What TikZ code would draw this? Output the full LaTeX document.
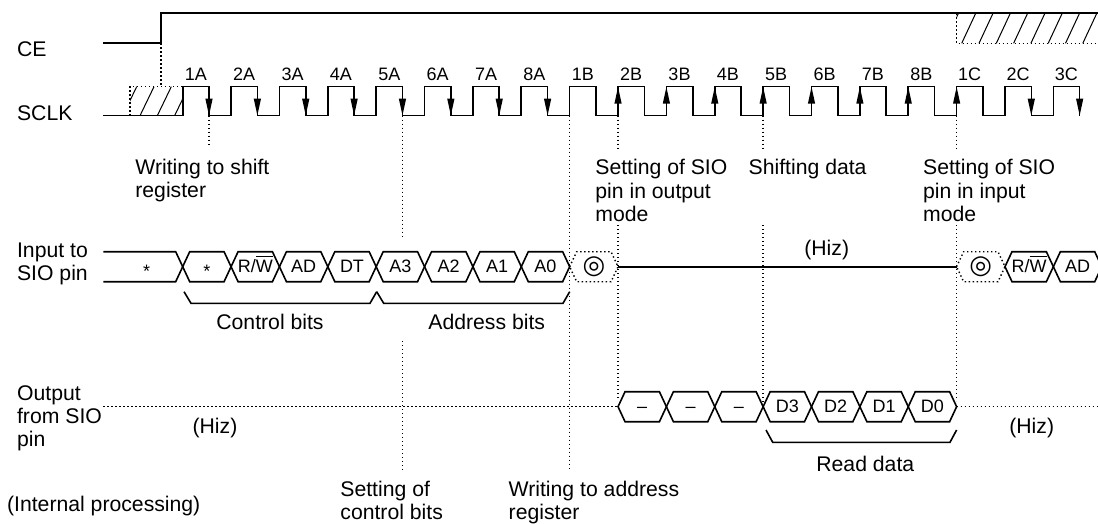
\documentclass[tikz,border=0pt]{standalone}
\usepackage{fontspec}
\setmainfont{Liberation Sans}
\newfontfamily\symfont{DejaVu Sans}
\usepackage{tikz}
\usetikzlibrary{arrows.meta}

\begin{document}
\begin{tikzpicture}[x=0.5pt, y=-0.5pt,
    wave/.style={line width=0.8pt},
    dots/.style={line width=0.7pt, dash pattern=on 0.7pt off 1.3pt},
    hatch/.style={line width=0.5pt},
    edge/.style={line width=0.8pt, -{Triangle[length=8.5pt,width=3.4pt]}},
    lbl/.style={font=\fontsize{10.6pt}{11.7pt}\selectfont, inner sep=0pt, align=left},
    bit/.style={font=\fontsize{9pt}{10pt}\selectfont, inner sep=0pt, anchor=base}]
    \useasboundingbox (0,0) rectangle (1098,524);
    \clip (0,0) rectangle (1098,524);
    % CE
    \draw[wave] (103.3,43.3) -- (161,43.3) -- (161,13.3) -- (1098,13.3);
    \draw[dots] (161,43.3) -- (161,86.7);
    \draw[dots] (956.6,13.3) -- (956.6,43.3) -- (1098,43.3);
    \begin{scope}
      \clip (956.6,13.3) rectangle (1098,43.3);
      \foreach \h in {0,...,8} \draw[hatch] ({944.4+17.3*\h},43.3) -- ++(14,-30);
    \end{scope}
    % SCLK
    \draw[dots] (130,115.7) -- (130,86.7) -- (182.7,86.7);
    \begin{scope}
      \clip (130,86.7) rectangle (182.7,115.7);
      \foreach \h in {0,...,3} \draw[hatch] ({122.7+17.3*\h},115.7) -- ++(14,-29);
    \end{scope}
    \draw[wave] (103.3,115.7) foreach \k in {0,...,18} {
      -- ({182.7+48.37*\k},115.7) -- ++(0,-29) -- ++(26.3,0) -- ++(0,29) };
    \foreach \k in {0,1,2,3,4,5,6,7,17,18}
      \draw[edge] ({209+48.37*\k},86.7) -- ++(0,29);
    \foreach \k in {9,...,16}
      \draw[edge] ({182.7+48.37*\k},115.7) -- ++(0,-29);
    \foreach \t [count=\k from 0] in {1A,2A,3A,4A,5A,6A,7A,8A,1B,2B,3B,4B,5B,6B,7B,8B,1C,2C,3C}
      \node[bit] (clk\t) at ({195.8+48.37*\k},81) {\t};
    % Markers
    \draw[dots] (209,115.7) -- (209,145);
    \draw[dots] (402.5,115.7) -- (402.5,238);
    \draw[dots] (402.5,341) -- (402.5,470);
    \draw[dots] (569.7,115.7) -- (569.7,470);
    \foreach \x/\e in {618/400, 763.1/403, 956.6/401} {
      \draw[dots] (\x,115.7) -- (\x,150);
      \draw[dots] (\x,225) -- (\x,\e);
    }
    % Input to SIO pin
    \draw[wave] (103.3,251.7) -- (175.7,251.7) -- (182.7,266.7) -- (175.7,281.7) -- (103.3,281.7);
    \node[bit] (in) at (146.7,272) {\raisebox{-2.7pt}{*}};
    \foreach \k/\t in {0/{\raisebox{-2.7pt}{*}}, 1/{R/$\overline{\mbox{W}}$}, 2/AD, 3/DT,
        4/A3, 5/A2, 6/A1, 7/A0, 17/{R/$\overline{\mbox{W}}$}, 18/AD} {
      \pgfmathsetmacro\a{182.7+48.37*\k}
      \pgfmathsetmacro\b{\a+48.37}
      \draw[wave] (\a,266.7) -- ({\a+7},251.7) -- ({\b-7},251.7) -- (\b,266.7)
        -- ({\b-7},281.7) -- ({\a+7},281.7) -- cycle;
      \node[bit] (in\k) at ({(\a+\b)/2},272) {\t};
    }
    \foreach \k in {8,16} {
      \pgfmathsetmacro\a{182.7+48.37*\k}
      \pgfmathsetmacro\b{\a+48.37}
      \draw[dots] (\a,266.7) -- ({\a+7},251.7) -- ({\b-7},251.7) -- (\b,266.7)
        -- ({\b-7},281.7) -- ({\a+7},281.7) -- cycle;
      \node[lbl, font=\fontsize{13pt}{14pt}\symfont] (mark\k) at ({(\a+\b)/2},266.7) {◎};
    }
    \draw[wave] (618,266.7) -- (956.6,266.7);
    \node[lbl, anchor=base] (hizin) at (826.7,256) {(Hiz)};
    \draw[wave] (184,291.7) -- (191,303.3) -- (370,303.3) -- (376.7,291.7);
    \draw[wave] (376.7,291.7) -- (383.7,303.3) -- (563,303.3) -- (569.7,291.7);
    \node[lbl, anchor=base] (ctrl) at (270,329) {Control bits};
    \node[lbl, anchor=base] (addr) at (486.7,329) {Address bits};
    % Output from SIO pin
    \draw[dots] (103.3,406.7) -- (618,406.7);
    \draw[dots] (956.6,406.7) -- (1098,406.7);
    \foreach \k/\t in {9/--, 10/--, 11/--, 12/D3, 13/D2, 14/D1, 15/D0} {
      \pgfmathsetmacro\a{182.7+48.37*\k}
      \pgfmathsetmacro\b{\a+48.37}
      \draw[wave] (\a,406.7) -- ({\a+7},391.7) -- ({\b-7},391.7) -- (\b,406.7)
        -- ({\b-7},421.7) -- ({\a+7},421.7) -- cycle;
      \node[bit] (out\k) at ({(\a+\b)/2},412) {\t};
    }
    \draw[wave] (766,430) -- (772.7,442.3) -- (950,442.3) -- (956.6,430);
    \node[lbl, anchor=base] (hizl) at (215,433.3) {(Hiz)};
    \node[lbl, anchor=base] (hizr) at (1031.7,433.3) {(Hiz)};
    \node[lbl, anchor=base] (read) at (865.3,471.7) {Read data};
    % Labels (multi-line: base is the last line)
    \node[lbl, anchor=base west] (ce) at (16.7,56.7) {CE};
    \node[lbl, anchor=base west] (sclk) at (16.7,120) {SCLK};
    \node[lbl, anchor=base west] (sio) at (16.7,280.7) {Input to\\SIO pin};
    \node[lbl, anchor=base west] (sout) at (16.7,446.8) {Output\\from SIO\\pin};
    \node[lbl, anchor=base west] (shift) at (135,197.7) {Writing to shift\\register};
    \node[lbl, anchor=base west] (omode) at (595,221.8) {Setting of SIO\\pin in output\\mode};
    \node[lbl, anchor=base west] (sdata) at (748.3,175) {Shifting data};
    \node[lbl, anchor=base west] (imode) at (922.7,221.8) {Setting of SIO\\pin in input\\mode};
    \node[lbl, anchor=base west] (intern) at (6.7,511) {(Internal processing)};
    \node[lbl, anchor=base west, font=\fontsize{10.6pt}{11.2pt}\selectfont] (cbits) at (340,519) {Setting of\\control bits};
    \node[lbl, anchor=base west, font=\fontsize{10.6pt}{11.2pt}\selectfont] (areg) at (508.3,519) {Writing to address\\register};
\end{tikzpicture}
\end{document}
